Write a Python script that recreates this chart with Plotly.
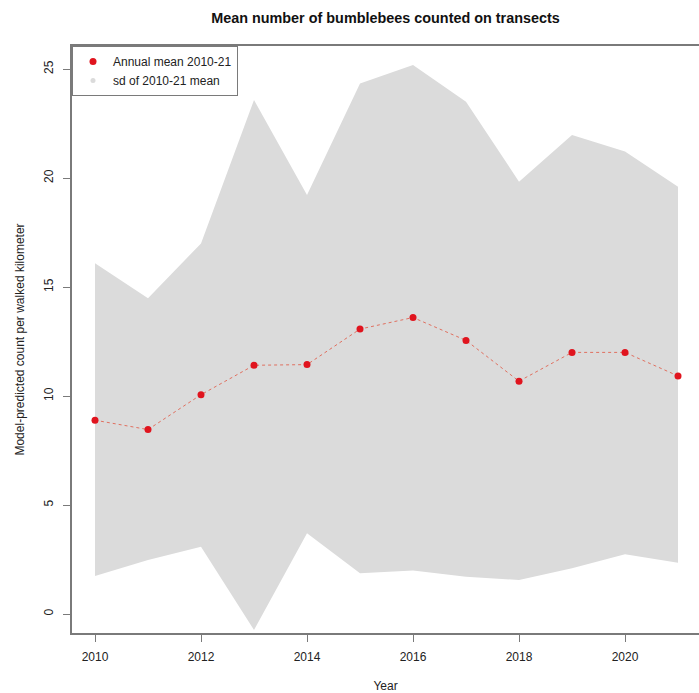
import plotly.graph_objects as go

years = [2010, 2011, 2012, 2013, 2014, 2015, 2016, 2017, 2018, 2019, 2020, 2021]
annual_mean = [8.89, 8.46, 10.06, 11.41, 11.44, 13.07, 13.60, 12.55, 10.68, 12.00, 12.00, 10.92]
upper_sd = [16.09, 14.48, 17.00, 23.58, 19.22, 24.34, 25.18, 23.50, 19.83, 21.97, 21.21, 19.60]
lower_sd = [1.74, 2.48, 3.09, -0.73, 3.70, 1.87, 1.99, 1.71, 1.56, 2.10, 2.74, 2.35]

x_ticks = [2010, 2012, 2014, 2016, 2018, 2020]
y_ticks = [0, 5, 10, 15, 20, 25]

FONT = "Liberation Sans, Arial, Helvetica, sans-serif"
BAND = "#DBDBDB"
AXIS = "#7a7a7a"

fig = go.Figure()

# sd band
fig.add_trace(go.Scatter(
    x=years + years[::-1],
    y=upper_sd + lower_sd[::-1],
    fill="toself", fillcolor=BAND, mode="none",
    line=dict(width=0), showlegend=False, hoverinfo="skip",
))

# dotted connecting line
fig.add_trace(go.Scatter(
    x=years, y=annual_mean, mode="lines",
    line=dict(color="#E07060", width=1, dash="dot"),
    showlegend=False,
))

# mean points
fig.add_trace(go.Scatter(
    x=years, y=annual_mean, mode="markers",
    marker=dict(color="#E0141E", size=7, line=dict(width=0)),
    name="Annual mean 2010-21",
))

# legend entry for sd
fig.add_trace(go.Scatter(
    x=[None], y=[None], mode="markers",
    marker=dict(color=BAND, size=5),
    name="sd of 2010-21 mean",
))

fig.update_layout(
    width=699, height=693,
    margin=dict(l=72, r=0, t=46, b=60),
    paper_bgcolor="white", plot_bgcolor="white",
    font=dict(family=FONT, size=12, color="#222"),
    title=dict(
        text="<b>Mean number of bumblebees counted on transects</b>",
        x=0.5, xref="paper", xanchor="center",
        y=1 - 18 / 693, yref="container", yanchor="middle",
        font=dict(size=14.4, color="#111", family=FONT),
    ),
    legend=dict(
        x=0, y=1, xanchor="left", yanchor="top",
        bordercolor=AXIS, borderwidth=1, bgcolor="white",
        font=dict(size=12, color="#222"),
        itemwidth=30, tracegroupgap=0,
    ),
    showlegend=True,
)

fig.update_xaxes(
    range=[2009.566, 2021.396],
    tickvals=x_ticks, ticktext=[str(v) for v in x_ticks],
    ticks="outside", ticklen=7, tickcolor=AXIS, tickwidth=1,
    showline=True, linecolor=AXIS, linewidth=1.5, mirror=True,
    showgrid=False, zeroline=False,
    title=dict(text="Year", standoff=21, font=dict(size=12)),
    ticklabelstandoff=5,
)
fig.update_yaxes(
    range=[(614 - 633) / 21.8, (614 - 46) / 21.8],
    tickvals=y_ticks, ticktext=[str(v) for v in y_ticks],
    tickangle=-90,
    ticks="outside", ticklen=7, tickcolor=AXIS, tickwidth=1,
    showline=True, linecolor=AXIS, linewidth=1.5, mirror=False,
    showgrid=False, zeroline=False,
    title=dict(text="Model-predicted count per walked kilometer", standoff=15, font=dict(size=12)),
    ticklabelstandoff=5,
)

fig.write_html("out.html")
